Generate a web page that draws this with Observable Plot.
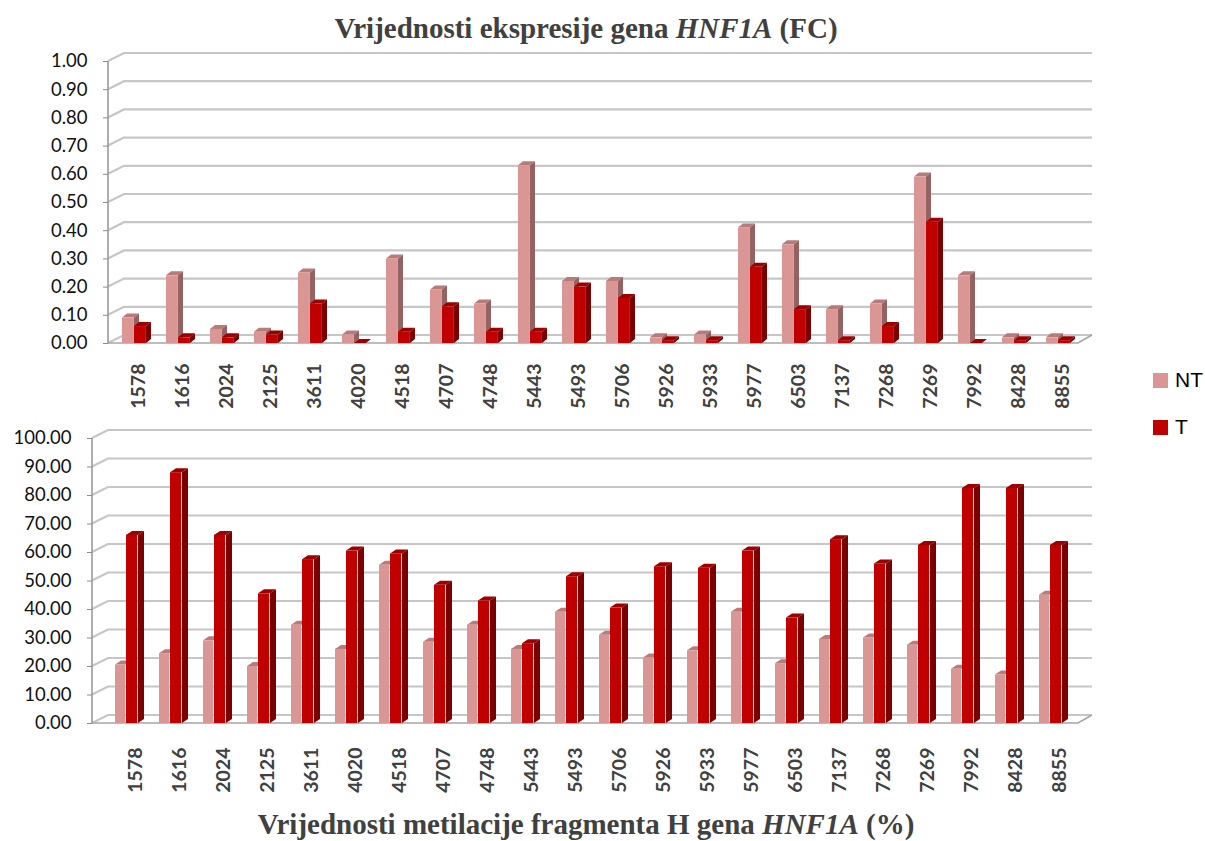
<!DOCTYPE html>
<html>
<head>
<meta charset="utf-8">
<script src="https://cdn.jsdelivr.net/npm/d3@7"></script>
<script src="https://cdn.jsdelivr.net/npm/@observablehq/plot@0.6"></script>
<style>
  body { margin: 0; background: #fff; }
  #wrap { position: relative; width: 1205px; height: 841px; overflow: hidden; background: #fff; }
  .ttl { position: absolute; left: 0; width: 1172px; text-align: center; font-family: "Liberation Serif", "Times New Roman", serif; font-weight: bold; color: #404040; white-space: nowrap; }
  #title { top: 14px; font-size: 29px; line-height: 29px; }
  #caption { top: 810px; font-size: 29px; line-height: 29px; }
  .plot { position: absolute; left: 0; }
  #top { top: 0; }
  #bottom { top: 405px; }
  .leg { position: absolute; left: 1153px; font-family: "Liberation Sans", Arial, sans-serif; font-size: 21px; color: #000; display: flex; align-items: center; }
  .leg span.sw { display: inline-block; width: 15px; height: 15px; margin-right: 7px; }
</style>
</head>
<body>
<div id="wrap">
  <div id="title" class="ttl">Vrijednosti ekspresije gena <i>HNF1A</i> (FC)</div>
  <div id="top" class="plot"></div>
  <div id="bottom" class="plot"></div>
  <div id="legend"></div>
  <div id="caption" class="ttl">Vrijednosti metilacije fragmenta H gena <i>HNF1A</i> (%)</div>
</div>
<script>
// ---- data ----
const categories = ["1578","1616","2024","2125","3611","4020","4518","4707","4748","5443","5493","5706","5926","5933","5977","6503","7137","7268","7269","7992","8428","8855"];
const seriesNames = ["NT", "T"];
// Expression (FC)
const exprNT = [0.09,0.24,0.05,0.04,0.25,0.03,0.30,0.19,0.14,0.63,0.22,0.22,0.02,0.03,0.41,0.35,0.12,0.14,0.59,0.24,0.02,0.02];
const exprT  = [0.06,0.02,0.02,0.03,0.14,0.00,0.04,0.13,0.04,0.04,0.20,0.16,0.01,0.01,0.27,0.12,0.01,0.06,0.43,0.00,0.01,0.01];
// Methylation (%)
const methNT = [20.5,24.5,29,20,34.5,26,55.5,28.5,34.5,26,39,31,23,25.5,39,21,29.5,30,27.5,19,17,45];
const methT  = [66,88,66,45.5,57.5,60.5,59.5,48.5,43,28,51.5,40.5,55,54.5,60.5,37,64.5,56,62.5,82.5,82.5,62.5];
// tick values
const ticksTop = [0,0.1,0.2,0.3,0.4,0.5,0.6,0.7,0.8,0.9,1.0];
const ticksBottom = [0,10,20,30,40,50,60,70,80,90,100];

// ---- styles ----
const col = {
  NT: {front: "#d99694", top: "#b77b7a", side: "#956262"},
  T:  {front: "#c00000", top: "#9c0000", side: "#7a0000"}
};

function rows(nt, t) {
  return categories.flatMap((c, i) => [
    {cat: c, series: "NT", value: nt[i]},
    {cat: c, series: "T", value: t[i]}
  ]);
}

// back wall gridlines + floor + axis line, from the y scale and plot dimensions
function frame(ticks, ox, oy) {
  return (index, scales, values, dims) => {
    const y = scales.y;
    const ax = dims.marginLeft;
    const fe = dims.width - dims.marginRight;
    const be = fe + ox - 2;
    const g = d3.create("svg:g").attr("fill", "none");
    for (const v of ticks) {
      const yy = y(v);
      g.append("path")
        .attr("d", `M${ax},${yy}L${ax + ox},${yy - oy}L${be},${yy - oy}`)
        .attr("stroke", "#c6c6c6").attr("stroke-width", 2.2);
    }
    const y0 = y(ticks[0]);
    g.append("path")
      .attr("d", `M${ax},${y0}L${fe},${y0}L${be},${y0 - oy}`)
      .attr("stroke", "#a6a6a6").attr("stroke-width", 1.6);
    g.append("path")
      .attr("d", `M${ax},${y0}L${ax},${y(ticks[ticks.length - 1])}`)
      .attr("stroke", "#9a9a9a").attr("stroke-width", 1.6);
    return g.node();
  };
}

// 3D top and side faces of the bars of one series
function faces(vals, off, bw, dz, dyz, c) {
  return (index, scales) => {
    const x = scales.x, y = scales.y;
    const g = d3.create("svg:g");
    categories.forEach((cat, i) => {
      const x0 = x(cat) + off, x1 = x0 + bw, yt = y(vals[i]), yb = y(0);
      g.append("polygon")
        .attr("points", `${x0},${yt} ${x0 + dz},${yt - dyz} ${x1 + dz},${yt - dyz} ${x1},${yt}`)
        .attr("fill", c.top);
      g.append("polygon")
        .attr("points", `${x1},${yt} ${x1 + dz},${yt - dyz} ${x1 + dz},${yb - dyz} ${x1},${yb}`)
        .attr("fill", c.side);
    });
    return g.node();
  };
}

function chart({nt, t, ticks, fmt, yTop, yBottom, xStart, step, marginLeft, height, ox, oy, off, bwNT, bwT, dz, dyz, labelPad, labelDx}) {
  const data = rows(nt, t);
  const xEnd = xStart + step * categories.length;
  const ntRows = data.filter(d => d.series === "NT");
  const tRows = data.filter(d => d.series === "T");
  return Plot.plot({
    width: 1130,
    height,
    marginLeft,
    marginRight: 52,
    marginTop: yTop,
    marginBottom: height - yBottom,
    style: {fontFamily: "Lato, 'Open Sans', sans-serif", background: "transparent"},
    x: {type: "band", domain: categories, range: [xStart, xEnd], padding: 0, label: null},
    y: {domain: [ticks[0], ticks[ticks.length - 1]], range: [yBottom, yTop], label: null},
    marks: [
      frame(ticks, ox, oy),
      faces(nt, off, bwNT, dz, dyz, col.NT),
      Plot.barY(ntRows, {x: "cat", y: "value", fill: col.NT.front, insetLeft: off, insetRight: step - off - bwNT}),
      faces(t, off + bwNT, bwT, dz, dyz, col.T),
      Plot.barY(tRows, {x: "cat", y: "value", fill: col.T.front, insetLeft: off + bwNT, insetRight: step - off - bwNT - bwT}),
      Plot.axisY(ticks, {tickFormat: fmt, tickSize: 5, tickPadding: 16, fontSize: 18.5, fill: "#111", stroke: "#8c8c8c", label: null}),
      Plot.axisX({tickRotate: -90, tickSize: 0, tickPadding: labelPad, dx: labelDx, fontSize: 19.5, fontWeight: "bold", fill: "#404040", label: null})
    ]
  });
}

document.getElementById("top").append(chart({
  nt: exprNT, t: exprT, ticks: ticksTop, fmt: d => d.toFixed(2),
  yTop: 61, yBottom: 343, xStart: 115, step: 44.1, marginLeft: 108, height: 410,
  ox: 16, oy: 8, off: 6, bwNT: 12, bwT: 12, dz: 5, dyz: 4, labelPad: 20, labelDx: 0
}));

document.getElementById("bottom").append(chart({
  nt: methNT, t: methT, ticks: ticksBottom, fmt: d => d.toFixed(2),
  yTop: 438 - 405, yBottom: 723 - 405, xStart: 101, step: 44.77, marginLeft: 92, height: 400,
  ox: 16, oy: 8, off: 6, bwNT: 11, bwT: 12, dz: 6, dyz: 4, labelPad: 24, labelDx: 4
}));

// legend
const leg = d3.select("#legend");
seriesNames.forEach((s, i) => {
  const item = leg.append("div").attr("class", "leg").style("top", (i === 0 ? 368 : 415) + "px");
  item.append("span").attr("class", "sw").style("background", col[s].front);
  item.append("span").text(s);
});
</script>
</body>
</html>
